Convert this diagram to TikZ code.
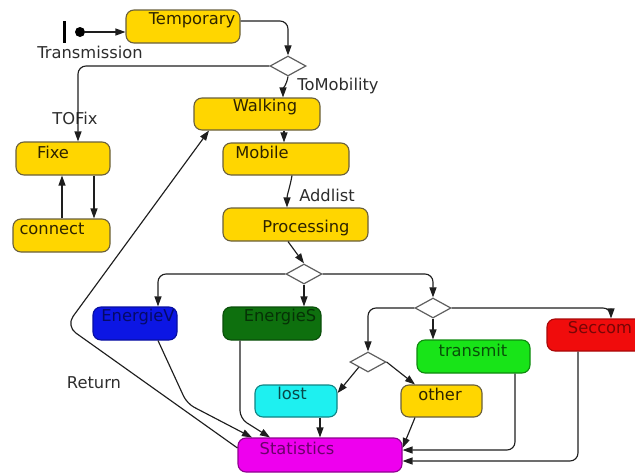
\documentclass[tikz,border=0pt]{standalone}
\usepackage{fontspec}
\setmainfont{DejaVu Sans}
\usetikzlibrary{arrows.meta,shapes.geometric}
\definecolor{cyel}{RGB}{255,214,0}
\definecolor{cbord}{RGB}{105,95,60}
\definecolor{cblue}{RGB}{12,22,228}
\definecolor{cdgreen}{RGB}{14,112,14}
\definecolor{cred}{RGB}{240,12,12}
\definecolor{cgreen}{RGB}{24,228,24}
\definecolor{ccyan}{RGB}{30,240,240}
\definecolor{cmag}{RGB}{238,0,238}
\definecolor{tyel}{RGB}{45,35,0}
\definecolor{tlab}{RGB}{45,45,45}
\definecolor{cline}{RGB}{30,30,30}
\definecolor{cdia}{RGB}{95,95,95}
\begin{document}
\begin{tikzpicture}[x=1pt,y=-1pt,
  box/.style={draw=cbord,line width=1.1pt,rounded corners=8pt,inner sep=0pt},
  txt/.style={inner sep=0pt,font=\fontsize{16.3}{18}\selectfont,text=tyel},
  lab/.style={inner sep=0pt,font=\fontsize{16.3}{18}\selectfont,text=tlab},
  dia/.style={diamond,draw=cdia,fill=white,line width=1.2pt,inner sep=0pt,minimum width=36pt,minimum height=20pt},
  arr/.style={draw=cline,line width=1.15pt,-{Triangle[length=10pt,width=7pt]},rounded corners=8pt},
  ln/.style={draw=cline,line width=1.15pt,rounded corners=8pt}]
\useasboundingbox (0,0) rectangle (635,474);
% start
\node[inner sep=0pt,minimum width=3pt,minimum height=22pt,fill=black] (bar) at (64,31.5) {};
\node[circle,fill=black,inner sep=0pt,minimum size=10pt] (dot) at (80,32) {};
\node[lab] (transL) at (90,52) {Transmission};
% boxes
\node[box,fill=cyel,minimum width=114pt,minimum height=33pt] (tmp) at (183,26.5) {};
\node[txt] (tmpT) at (192,20) {Temporary};
\node[box,fill=cyel,minimum width=126pt,minimum height=32pt] (walk) at (257,114) {};
\node[txt] (walkT) at (265,107) {Walking};
\node[box,fill=cyel,minimum width=126pt,minimum height=32pt] (mob) at (286,159) {};
\node[txt] (mobT) at (262,152) {Mobile};
\node[box,fill=cyel,minimum width=145pt,minimum height=33pt] (proc) at (295.5,224.5) {};
\node[txt] (procT) at (306,228) {Processing};
\node[box,fill=cyel,minimum width=94pt,minimum height=33pt] (fixe) at (63,158.5) {};
\node[txt] (fixeT) at (53,152) {Fixe};
\node[box,fill=cyel,minimum width=97pt,minimum height=33pt] (conn) at (61.5,235.5) {};
\node[txt] (connT) at (52,229) {connect};
\node[box,fill=cblue,draw=cblue!70!black,minimum width=84pt,minimum height=33pt] (ev) at (135,323.5) {};
\node[txt,text=cblue!45!black] (evT) at (138,317) {EnergieV};
\node[box,fill=cdgreen,draw=cdgreen!70!black,minimum width=98pt,minimum height=33pt] (es) at (272,323.5) {};
\node[txt,text=cdgreen!45!black] (esT) at (280,317) {EnergieS};
\node[box,fill=cred,draw=cred!70!black,minimum width=103pt,minimum height=32pt] (sec) at (598.5,335) {};
\node[txt,text=cred!50!black] (secT) at (600,328) {Seccom};
\node[box,fill=cgreen,draw=cgreen!60!black,minimum width=113pt,minimum height=33pt] (tr) at (473.5,356.5) {};
\node[txt,text=cgreen!35!black] (trT) at (473,350) {transmit};
\node[box,fill=ccyan,draw=ccyan!55!black,minimum width=82pt,minimum height=32pt] (lost) at (296,401) {};
\node[txt,text=ccyan!30!black] (lostT) at (292,393) {lost};
\node[box,fill=cyel,minimum width=81pt,minimum height=32pt] (oth) at (441.5,401) {};
\node[txt] (othT) at (440,394) {other};
\node[box,fill=cmag,draw=cmag!60!black,minimum width=164pt,minimum height=34pt] (stat) at (320,455) {};
\node[txt,text=cmag!45!black] (statT) at (297,448) {Statistics};
% diamonds
\node[dia] (d1) at (288,66) {};
\node[dia] (d2) at (304,274) {};
\node[dia] (d3) at (433,308) {};
\node[dia] (d4) at (368,362) {};
% labels
\node[lab] (tofix) at (75,118) {TOFix};
\node[lab] (tomob) at (338,86) {ToMobility};
\node[lab] (addl) at (327,195) {Addlist};
\node[lab] (ret) at (94,383) {Return};
\coordinate (rb) at (66,326);
% connectors
\draw[arr] (dot) -- (dot -| tmp.west);
\draw[arr] ([yshift=5.5pt]tmp.east) -| (d1.north);
\draw[arr] (d1.west) -| ([xshift=15pt]fixe.north);
\draw[arr] (d1.south) to[out=-100,in=90] ([xshift=26pt]walk.north);
\draw[arr] ([xshift=27pt]walk.south) -- ([xshift=-2pt]mob.north);
\draw[arr] ([xshift=6pt]mob.south) to[out=-100,in=90] ([xshift=-8.5pt]proc.north);
\draw[arr] ([xshift=-7.5pt]proc.south) -- (d2.north);
\draw[arr] (d2.west) -| ([xshift=23pt]ev.north);
\draw[arr] (d2.south) -- (d2.south |- es.north);
\draw[arr] (d2.east) -| (d3.north);
\draw[arr] (d3.south) -- (d3.south |- tr.north);
\draw[arr] (d3.east) -| ([xshift=12.5pt]sec.north);
\draw[arr] (d3.west) -| (d4.north);
\draw[arr] (d4.south west) -- ([yshift=8pt]lost.east);
\draw[arr] (d4.east) -- ([xshift=-26.5pt]oth.north);
\draw[arr] ([xshift=31pt]fixe.south) -- ([xshift=32.5pt]conn.north);
\draw[arr] ([xshift=0.5pt]conn.north) -- ([xshift=-1pt]fixe.south);
\draw[arr,rounded corners=12pt] ([yshift=7pt]stat.west) -- (rb) -- ([xshift=-48pt]walk.south);
\draw[arr] ([xshift=23pt]ev.south) -- ++(29,63) -- ([xshift=-68pt]stat.north);
\draw[arr] ([xshift=-32pt]es.south) -- ++(0,78) -- ([xshift=-50pt]stat.north);
\draw[arr] ([xshift=24pt]lost.south) -- ([xshift=24pt]lost.south |- stat.north);
\draw[arr] ([xshift=-26.5pt]oth.south) -- ([yshift=7pt]stat.east);
\draw[arr] ([xshift=41.5pt]tr.south) |- ([yshift=5pt]stat.east);
\draw[arr] ([xshift=-20.5pt]sec.south) |- ([yshift=-6pt]stat.east);
\end{tikzpicture}
\end{document}
